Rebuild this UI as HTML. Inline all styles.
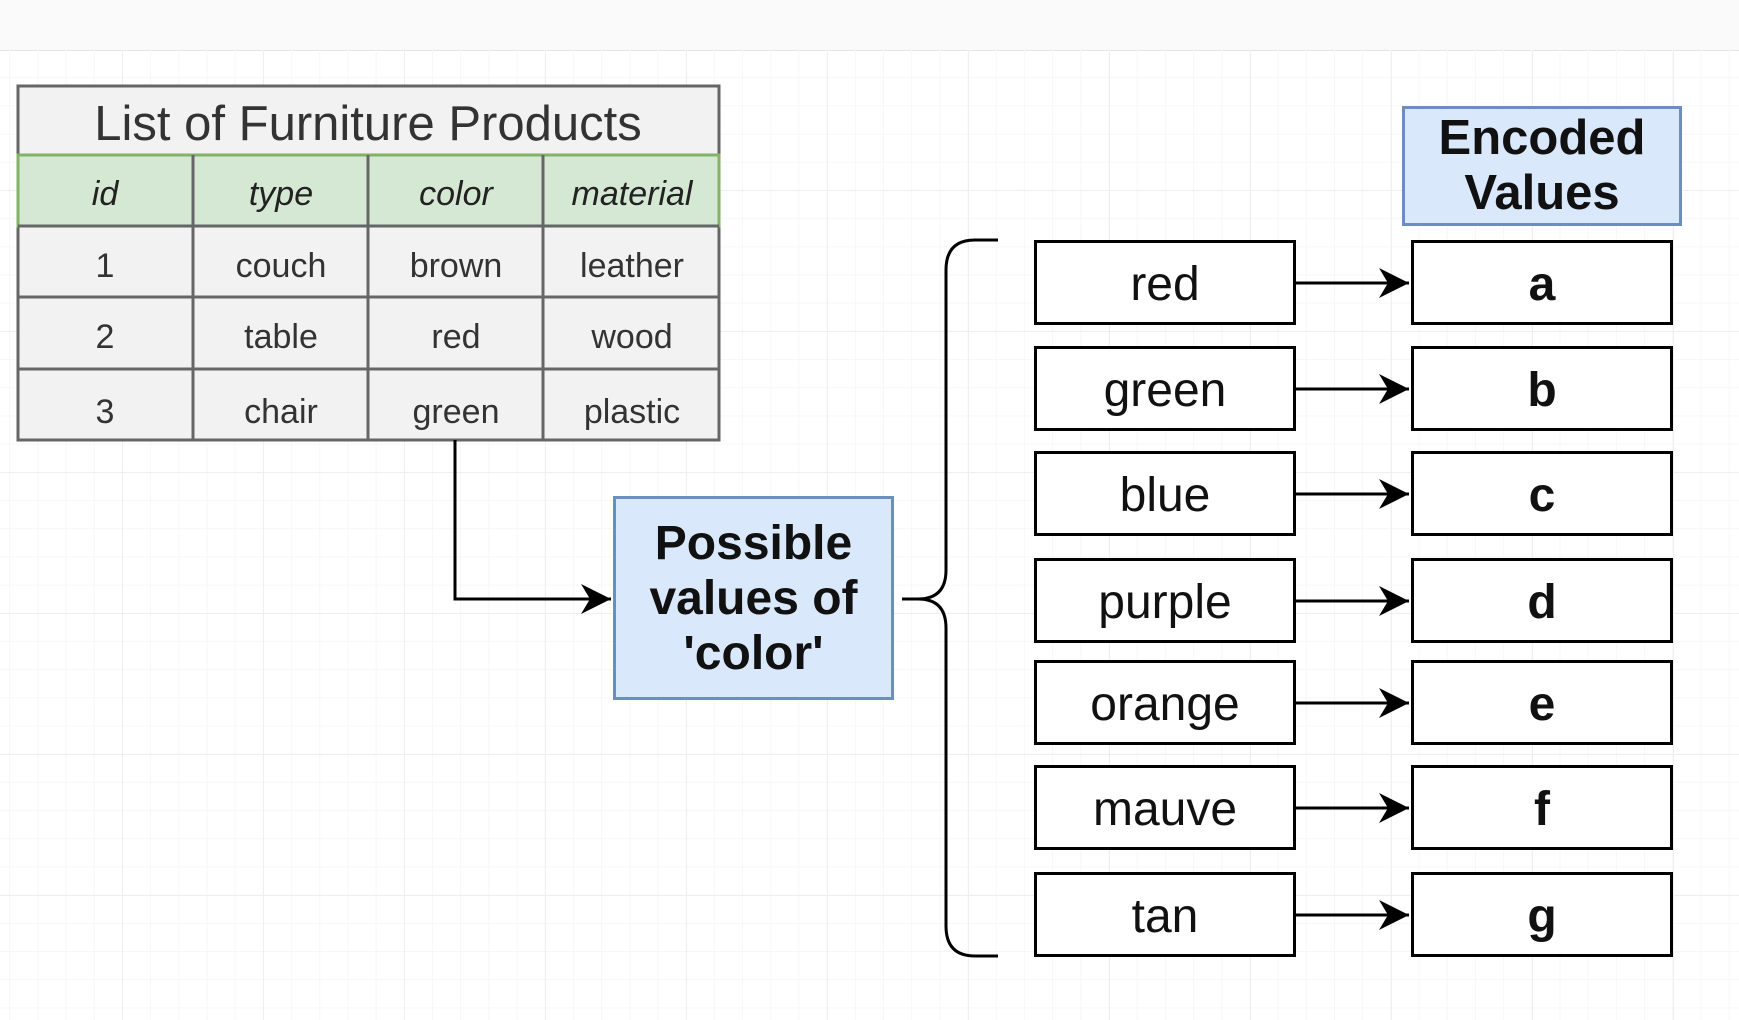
<!DOCTYPE html>
<html><head><meta charset="utf-8"><style>
body{margin:0;width:1739px;height:1020px;overflow:hidden;background:#fff;font-family:"Liberation Sans",sans-serif;}
.grid{position:absolute;left:0;top:50px;width:1739px;height:970px;
background-image:linear-gradient(#efefef 1px,transparent 1px),linear-gradient(90deg,#efefef 1px,transparent 1px),linear-gradient(#f7f7f7 1px,transparent 1px),linear-gradient(90deg,#f7f7f7 1px,transparent 1px);
background-size:141px 141px,141px 141px,28.2px 28.2px,28.2px 28.2px;background-position:-19px -1px,-19px -1px,-19px -1px,-19px -1px;}
.tb{position:absolute;left:0;top:0;width:1739px;height:50px;background:#fafafa;border-bottom:1px solid #e4e4e4;}
.a{position:absolute;box-sizing:border-box;display:flex;align-items:center;justify-content:center;text-align:center;}
</style></head><body>
<div class="tb"></div>
<div class="grid"></div>
<svg width="1739" height="1020" style="position:absolute;left:0;top:0">
<defs>
<marker id="ar2" viewBox="0 0 10 10" markerWidth="30" markerHeight="30" refX="10" refY="5" orient="auto" markerUnits="userSpaceOnUse"><path d="M0,0 L10,5 L0,10 L3,5 z" fill="#000"/></marker></defs>
<rect x="18" y="86" width="701" height="354" fill="#f2f2f2" stroke="#666" stroke-width="3"/>
<rect x="18" y="155" width="701" height="71" fill="#d5e8d4" stroke="#82b366" stroke-width="3"/>
<g stroke="#666" stroke-width="3">
<line x1="18" y1="226" x2="719" y2="226"/><line x1="18" y1="297" x2="719" y2="297"/><line x1="18" y1="369" x2="719" y2="369"/>
<line x1="193" y1="155" x2="193" y2="440"/><line x1="368" y1="155" x2="368" y2="440"/><line x1="543" y1="155" x2="543" y2="440"/>
</g>
<g font-family="Liberation Sans" font-size="34" fill="#333" text-anchor="middle">
<text x="368" y="140" font-size="49">List of Furniture Products</text>
<g font-style="italic" fill="#222"><text x="105" y="205">id</text><text x="281" y="205">type</text><text x="456" y="205">color</text><text x="632" y="205">material</text></g>
<text x="105" y="277">1</text><text x="281" y="277">couch</text><text x="456" y="277">brown</text><text x="632" y="277">leather</text>
<text x="105" y="348">2</text><text x="281" y="348">table</text><text x="456" y="348">red</text><text x="632" y="348">wood</text>
<text x="105" y="423">3</text><text x="281" y="423">chair</text><text x="456" y="423">green</text><text x="632" y="423">plastic</text>
</g>
<path d="M455,440 V599 H611" fill="none" stroke="#000" stroke-width="3" marker-end="url(#ar2)"/>
<path d="M998,240 H975 Q946,240 946,270 V570 Q946,599 918,599 H902 M918,599 Q946,599 946,628 V926 Q946,956 975,956 H998" fill="none" stroke="#000" stroke-width="3"/>
</svg>
<div class="a" style="left:613px;top:496px;width:281px;height:204px;background:#dae8fc;border:3px solid #6c8ebf;font-weight:bold;font-size:48px;line-height:55px;color:#111">Possible<br>values of<br>'color'</div>
<div class="a" style="left:1402px;top:106px;width:280px;height:120px;background:#dae8fc;border:3px solid #6c8ebf;font-weight:bold;font-size:49px;line-height:55px;color:#111">Encoded<br>Values</div>
<div id="rows"></div>
<svg width="1739" height="1020" style="position:absolute;left:0;top:0" id="arr"></svg>
<script>
var L=["red","green","blue","purple","orange","mauve","tan"],R="abcdefg",Y=[240,346,451,558,660,765,872],h="",s="";
for(var i=0;i<7;i++){
h+='<div class="a" style="left:1034px;top:'+Y[i]+'px;width:262px;height:85px;padding-top:4px;border:3px solid #000;background:#fff;font-size:48px;color:#111">'+L[i]+'</div>';
h+='<div class="a" style="left:1411px;top:'+Y[i]+'px;width:262px;height:85px;padding-top:4px;border:3px solid #000;background:#fff;font-size:48px;font-weight:bold;color:#111">'+R[i]+'</div>';
var c=Y[i]+43;
s+='<path d="M1296,'+c+' H1409" stroke="#000" stroke-width="3" marker-end="url(#ar2)"/>';
}
document.getElementById('rows').innerHTML=h;
document.getElementById('arr').innerHTML='<defs><marker id="ar2" viewBox="0 0 10 10" markerWidth="30" markerHeight="30" refX="10" refY="5" orient="auto" markerUnits="userSpaceOnUse"><path d="M0,0 L10,5 L0,10 L3,5 z" fill="#000"/></marker></defs>'+s;
</script>
</body></html>
